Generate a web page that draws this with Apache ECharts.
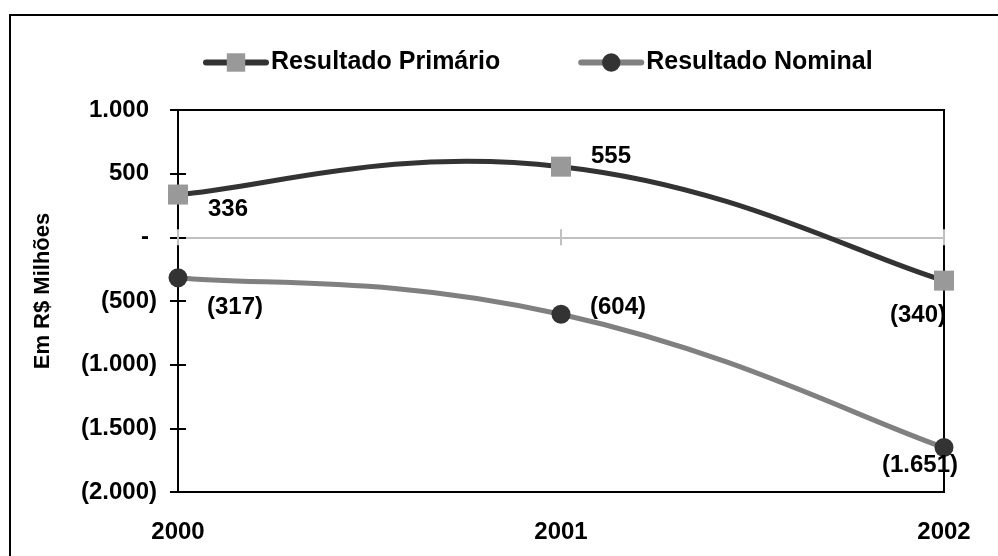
<!DOCTYPE html>
<html>
<head>
	<meta charset="utf-8">
	<script src="https://cdn.jsdelivr.net/npm/echarts@6/dist/echarts.min.js"></script>
</head>
<body style="margin:0">
	<div id="main" style="width:998px;height:556px;"></div>
</body>
<script type="text/javascript">
var anos = ['2000', '2001', '2002'];
var primario = [336, 555, -340];
var nominal = [-317, -604, -1651];
var nomeEixo = 'Em R$ Milhões';

function fmt(v){
	var s = Math.abs(v).toString().replace(/\B(?=(\d{3})+(?!\d))/g, '.');
	if (v === 0) return '-';
	return v < 0 ? '(' + s + ')' : s;
}

var fonte = 'Liberation Sans, Arial, sans-serif';

// posicao dos rotulos de cada ponto
var rotP = [['left', [30, 15]], ['left', [30, -10]], ['right', [2, 35]]];
var rotN = [['left', [29, 30]], ['left', [29, -7]], ['center', [-24, 18]]];

function pontos(vals, rot){
	return vals.map(function(v, i){
		return {
			value: v,
			label: {align: rot[i][0], offset: rot[i][1]}
		};
	});
}

// curva suavizada tipo excel (pode passar do ponto, o smooth do echarts nao passa)
function curva(vals, cor){
	var k = 0.23;
	return function(params, api){
		if (params.dataIndex !== 0) return;
		var p = vals.map(function(v, i){ return api.coord([i, v]); });
		var d = 'M' + p[0][0] + ',' + p[0][1];
		for (var i = 0; i < p.length - 1; i++){
			var a = p[Math.max(i - 1, 0)], b = p[i], c = p[i + 1], e = p[Math.min(i + 2, p.length - 1)];
			var c1x = b[0] + (c[0] - a[0]) * k, c1y = b[1] + (c[1] - a[1]) * k;
			var c2x = c[0] - (e[0] - b[0]) * k, c2y = c[1] - (e[1] - b[1]) * k;
			d += 'C' + c1x + ',' + c1y + ',' + c2x + ',' + c2y + ',' + c[0] + ',' + c[1];
		}
		return {
			type: 'path',
			shape: {pathData: d},
			style: {fill: 'none', stroke: cor, lineWidth: 5, lineCap: 'round', lineJoin: 'round'}
		};
	};
}

var rotulo = {
	show: true,
	position: 'inside',
	verticalAlign: 'middle',
	color: '#000',
	fontFamily: fonte,
	fontWeight: 'bold',
	fontSize: 24,
	formatter: function(p){ return fmt(p.value); }
};

var option = {
	animation: false,
	backgroundColor: '#fff',
	graphic: [
		{type: 'rect', shape: {x: 10, y: 15, width: 1000, height: 600}, style: {fill: 'none', stroke: '#000', lineWidth: 2}, z: 0},
		{type: 'text', x: 43, y: 291, rotation: Math.PI / 2,
			style: {text: nomeEixo, fill: '#000', font: 'bold 22px ' + fonte, align: 'center', verticalAlign: 'middle'}}
	],
	legend: {
		left: 198,
		top: 45,
		itemWidth: 60,
		itemHeight: 23,
		itemGap: 78,
		lineStyle: {width: 6, cap: 'round'},
		textStyle: {color: '#000', fontFamily: fonte, fontWeight: 'bold', fontSize: 25},
		data: [
			{name: 'Resultado Primário', lineStyle: {color: '#333333', opacity: 1}},
			{name: 'Resultado Nominal', lineStyle: {color: '#808080', opacity: 1}}
		]
	},
	grid: {
		left: 178, right: 54, top: 110, bottom: 64,
		show: true, borderColor: '#000', borderWidth: 2
	},
	xAxis: [{
		type: 'category',
		data: anos,
		boundaryGap: false,
		axisLine: {onZero: false, show: false},
		axisTick: {show: false},
		splitLine: {show: false},
		axisLabel: {color: '#000', fontFamily: fonte, fontWeight: 'bold', fontSize: 24, margin: 28}
	}, {
		type: 'category',
		data: anos,
		boundaryGap: false,
		axisLine: {onZero: true, onZeroAxisIndex: 0, lineStyle: {color: '#c0c0c0', width: 2}},
		axisTick: {show: true, inside: true, length: 8, lineStyle: {color: '#c0c0c0', width: 2}},
		axisLabel: {show: false}
	}, {
		type: 'category',
		data: anos,
		boundaryGap: false,
		axisLine: {onZero: true, onZeroAxisIndex: 0, show: false},
		axisTick: {show: true, inside: false, length: 8, lineStyle: {color: '#c0c0c0', width: 2}},
		axisLabel: {show: false}
	}],
	yAxis: [{
		type: 'value',
		min: -2000, max: 1000, interval: 500,
		axisLine: {show: true, lineStyle: {color: '#000', width: 2}},
		axisTick: {show: true, length: 8, lineStyle: {color: '#000', width: 2}},
		splitLine: {show: false},
		axisLabel: {
			color: '#000', fontFamily: fonte, fontWeight: 'bold', fontSize: 24, margin: 21,
			formatter: function(v){
				return v < 0 ? fmt(v) : '{p|' + fmt(v) + '}';
			},
			rich: {p: {color: '#000', fontFamily: fonte, fontWeight: 'bold', fontSize: 24, padding: [0, 8, 0, 0]}}
		}
	}, {
		type: 'value',
		min: -2000, max: 1000, interval: 500,
		position: 'left',
		offset: 0,
		axisLine: {show: true, lineStyle: {color: '#000', width: 2}},
		axisTick: {show: true, inside: true, length: 8, lineStyle: {color: '#000', width: 2}},
		splitLine: {show: false},
		axisLabel: {show: false}
	}],
	series: [{
		name: 'curvaPrimario',
		type: 'custom',
		silent: true,
		z: 2,
		renderItem: curva(primario, '#333333'),
		encode: {x: 0, y: 1},
		data: primario.map(function(v, i){ return [i, v]; })
	}, {
		name: 'curvaNominal',
		type: 'custom',
		silent: true,
		z: 2,
		renderItem: curva(nominal, '#808080'),
		encode: {x: 0, y: 1},
		data: nominal.map(function(v, i){ return [i, v]; })
	}, {
		name: 'Resultado Primário',
		type: 'line',
		symbol: 'rect',
		symbolSize: 20,
		itemStyle: {color: '#999999'},
		lineStyle: {color: '#333333', width: 5, opacity: 0},
		label: rotulo,
		data: pontos(primario, rotP),
		z: 3
	}, {
		name: 'Resultado Nominal',
		type: 'line',
		symbol: 'circle',
		symbolSize: 19,
		itemStyle: {color: '#333333'},
		lineStyle: {color: '#808080', width: 5, opacity: 0},
		label: rotulo,
		data: pontos(nominal, rotN),
		z: 3
	}]
};

var myChart = echarts.init(document.getElementById('main'));
myChart.setOption(option);
</script>
</html>
